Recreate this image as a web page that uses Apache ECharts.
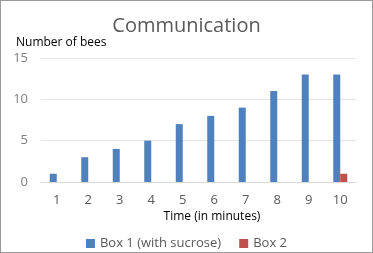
<!DOCTYPE html>
<html>
<head>
<meta charset="utf-8">
<script src="https://cdn.jsdelivr.net/npm/echarts@6/dist/echarts.min.js"></script>
<style>
  html, body { margin: 0; padding: 0; background: #fff; }
  #chart { width: 373px; height: 253px; box-sizing: border-box; border: 1px solid #9a9a9a; }
</style>
</head>
<body>
<div id="chart"></div>
<script>
const minutes = ['1', '2', '3', '4', '5', '6', '7', '8', '9', '10']
const box1 = [1, 3, 4, 5, 7, 8, 9, 11, 13, 13]
const box2 = [0, 0, 0, 0, 0, 0, 0, 0, 0, 1]
const yTicks = { min: 0, max: 15, interval: 5 }

const chart = echarts.init(document.getElementById('chart'))
const font = '"Open Sans", "Liberation Sans", sans-serif'

chart.setOption({
    animation: false,
    textStyle: { fontFamily: font },
    title: [
        {
            text: 'Communication',
            left: 'center',
            top: 10,
            textStyle: { fontSize: 20, fontWeight: 'normal', color: '#595959', fontFamily: font }
        },
        {
            text: 'Number of bees',
            left: 10,
            top: 31,
            textStyle: { fontSize: 12, fontWeight: 'normal', color: '#000', fontFamily: font }
        },
        {
            text: 'Time (in minutes)',
            left: 206,
            top: 205,
            textAlign: 'center',
            textStyle: { fontSize: 12, fontWeight: 'normal', color: '#000', fontFamily: font }
        }
    ],
    legend: {
        top: 231,
        left: 'center',
        itemWidth: 9,
        itemHeight: 9,
        itemGap: 18,
        icon: 'rect',
        textStyle: { fontSize: 13, color: '#595959', fontFamily: font },
        data: ['Box 1 (with sucrose)', 'Box 2']
    },
    grid: { left: 40, right: 16, top: 57, bottom: 70 },
    xAxis: {
        type: 'category',
        data: minutes,
        axisLine: { lineStyle: { color: '#d9d9d9' } },
        axisTick: { show: false },
        axisLabel: { fontSize: 13, color: '#595959', margin: 12 }
    },
    yAxis: {
        type: 'value',
        min: yTicks.min,
        max: yTicks.max,
        interval: yTicks.interval,
        axisLine: { show: false },
        axisTick: { show: false },
        splitLine: { lineStyle: { color: '#e4e4e4' } },
        axisLabel: { fontSize: 13, color: '#7f7f7f', margin: 13 }
    },
    series: [
        {
            name: 'Box 1 (with sucrose)',
            type: 'bar',
            data: box1,
            barWidth: 7,
            barGap: '0%',
            itemStyle: { color: '#4f81bd' }
        },
        {
            name: 'Box 2',
            type: 'bar',
            data: box2,
            barWidth: 7,
            itemStyle: { color: '#c0504d' }
        }
    ]
})

window.addEventListener('resize', () => {
    chart.resize()
})
</script>
</body>
</html>
